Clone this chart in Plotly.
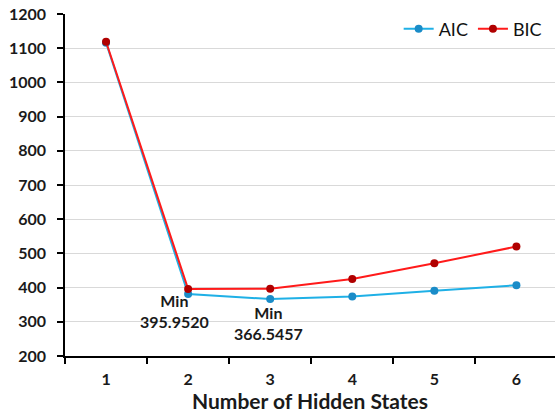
import plotly.graph_objects as go

states = ["1", "2", "3", "4", "5", "6"]
aic = [1116, 381, 366.5457, 374, 391, 407]
bic = [1119, 395.9520, 396.5, 425, 471, 520]
yticks = [200, 300, 400, 500, 600, 700, 800, 900, 1000, 1100, 1200]

font_family = "Lato, 'Open Sans', sans-serif"

fig = go.Figure()
fig.add_trace(go.Scatter(
    x=states, y=aic, name="AIC", mode="lines+markers",
    line=dict(color="#1fb0e6", width=2),
    marker=dict(color="#1a8cc8", size=8),
))
fig.add_trace(go.Scatter(
    x=states, y=bic, name="BIC", mode="lines+markers",
    line=dict(color="#ff1a1a", width=2),
    marker=dict(color="#b00000", size=8),
))

bic_min = min(bic)
aic_min = min(aic)
fig.add_annotation(x=bic.index(bic_min) - 0.16, y=332, text=f"Min<br>{bic_min:.4f}",
                   showarrow=False, font=dict(size=16, color="#1a1a1a", family=font_family, weight="bold"))
fig.add_annotation(x=aic.index(aic_min) - 0.02, y=297, text=f"Min<br>{aic_min:.4f}",
                   showarrow=False, font=dict(size=16, color="#1a1a1a", family=font_family, weight="bold"))

fig.update_layout(
    width=555, height=414,
    margin=dict(l=65, r=0, t=14, b=58),
    plot_bgcolor="white", paper_bgcolor="white",
    font=dict(family=font_family, color="#1a1a1a"),
    legend=dict(orientation="h", x=0.983, xanchor="right", y=1.01, yanchor="top",
                font=dict(size=18, color="#111"), bgcolor="rgba(0,0,0,0)",
                itemwidth=30, tracegroupgap=0),
    showlegend=True,
)
fig.update_xaxes(
    type="category", range=[-0.5, 5.47],
    showline=True, linecolor="black", linewidth=1.5,
    ticks="outside", tickson="boundaries", ticklen=6, tickcolor="black", tickwidth=1.5,
    showgrid=False, ticklabelstandoff=8,
    tickfont=dict(size=16, family=font_family, weight="bold", color="#1a1a1a"),
    title=dict(text="Number of Hidden States", standoff=0,
               font=dict(size=21, family=font_family, weight="bold", color="#1a1a1a")),
)
fig.update_yaxes(
    range=[200, 1200], tickvals=yticks,
    showline=True, linecolor="black", linewidth=1.5,
    ticks="outside", ticklen=6, tickcolor="black", tickwidth=1.5,
    showgrid=True, gridcolor="#d9d9d9", gridwidth=1,
    zeroline=False, ticklabelstandoff=8,
    tickfont=dict(size=16, family=font_family, weight="bold", color="#1a1a1a"),
)

fig.write_html("out.html", config={"displayModeBar": False},
               post_script="document.body.style.margin='0';document.body.style.padding='0';")
